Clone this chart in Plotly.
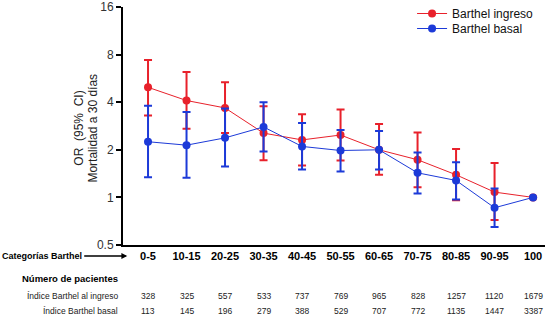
import plotly.graph_objects as go

categories = ["0-5", "10-15", "20-25", "30-35", "40-45", "50-55", "60-65", "70-75", "80-85", "90-95", "100"]

ingreso_or = [4.97, 4.1, 3.68, 2.55, 2.31, 2.48, 2.0, 1.73, 1.39, 1.08, 1.0]
ingreso_hi = [7.4, 6.2, 5.34, 3.77, 3.36, 3.6, 2.91, 2.57, 2.02, 1.65, 1.0]
ingreso_lo = [3.3, 2.72, 2.55, 1.72, 1.59, 1.71, 1.39, 1.16, 0.96, 0.72, 1.0]

basal_or = [2.25, 2.14, 2.38, 2.79, 2.10, 1.98, 2.0, 1.43, 1.28, 0.86, 1.0]
basal_hi = [3.8, 3.47, 3.65, 4.0, 2.95, 2.67, 2.63, 1.92, 1.67, 1.14, 1.0]
basal_lo = [1.34, 1.33, 1.57, 1.95, 1.50, 1.46, 1.50, 1.06, 0.97, 0.65, 1.0]

n_ingreso = [328, 325, 557, 533, 737, 769, 965, 828, 1257, 1120, 1679]
n_basal = [113, 145, 196, 279, 388, 529, 707, 772, 1135, 1447, 3387]

y_ticks = [0.5, 1, 2, 4, 8, 16]
y_ticktext = ["0.5", "1", "2", "4", "8", "16"]

RED = "#e8212b"
BLUE = "#1c3ad8"
FONT = "Arial, Liberation Sans, sans-serif"

TOP, BOT = 7, 73
PH = 318 - TOP - BOT


def py(px):
    return (318 - BOT - px) / PH


fig = go.Figure()


def add_series(name, vals, hi, lo, color, legend):
    fig.add_trace(go.Scatter(
        x=categories, y=vals, name=name, mode="lines+markers", legend=legend,
        line=dict(color=color, width=1),
        marker=dict(color=color, size=8),
        error_y=dict(type="data", symmetric=False,
                     array=[h - v for h, v in zip(hi, vals)],
                     arrayminus=[v - l for v, l in zip(vals, lo)],
                     color=color, thickness=2, width=4),
    ))


add_series("Barthel ingreso", ingreso_or, ingreso_hi, ingreso_lo, RED, "legend")
add_series("Barthel basal", basal_or, basal_hi, basal_lo, BLUE, "legend2")

annotations = []
annotations.append(dict(text="OR  (95%  CI)", xref="paper", yref="paper", x=-0.105, y=py(128),
                        xanchor="center", yanchor="middle", textangle=-90, showarrow=False,
                        font=dict(family=FONT, size=12, color="#222")))
annotations.append(dict(text="Mortalidad a 30 días", xref="paper", yref="paper", x=-0.072, y=py(128),
                        xanchor="center", yanchor="middle", textangle=-90, showarrow=False,
                        font=dict(family=FONT, size=12, color="#222")))
annotations.append(dict(text="<b>Categorías Barthel</b>", xref="paper", yref="paper",
                        x=-0.291, y=py(256), xanchor="left", yanchor="middle", showarrow=False,
                        font=dict(family=FONT, size=9, color="#000")))
annotations.append(dict(text=" ", xref="paper", yref="paper", x=0.01, y=py(256),
                        ax=-46, ay=0, axref="pixel", ayref="pixel", showarrow=True,
                        arrowhead=2, arrowsize=0.9, arrowwidth=1.3, arrowcolor="#000"))
annotations.append(dict(text="<b>Número de pacientes</b>", xref="paper", yref="paper",
                        x=-0.007, y=py(278), xanchor="right", yanchor="middle", showarrow=False,
                        font=dict(family=FONT, size=9.5, color="#000")))
annotations.append(dict(text="Índice Barthel al ingreso", xref="paper", yref="paper",
                        x=-0.007, y=py(296), xanchor="right", yanchor="middle", showarrow=False,
                        font=dict(family=FONT, size=8.5, color="#222")))
annotations.append(dict(text="Índice Barthel basal", xref="paper", yref="paper",
                        x=-0.007, y=py(311), xanchor="right", yanchor="middle", showarrow=False,
                        font=dict(family=FONT, size=8.5, color="#222")))
for i, (a, b) in enumerate(zip(n_ingreso, n_basal)):
    annotations.append(dict(text=str(a), xref="x", yref="paper", x=i, y=py(296),
                            xanchor="center", yanchor="middle", showarrow=False,
                            font=dict(family=FONT, size=8.5, color="#222")))
    annotations.append(dict(text=str(b), xref="x", yref="paper", x=i, y=py(311),
                            xanchor="center", yanchor="middle", showarrow=False,
                            font=dict(family=FONT, size=8.5, color="#222")))

legend_common = dict(xanchor="left", yanchor="middle", yref="container", bgcolor="rgba(0,0,0,0)",
                     font=dict(family=FONT, size=12, color="#111"), itemwidth=30)

fig.update_layout(
    width=560, height=318,
    margin=dict(l=123, r=15, t=TOP, b=BOT, autoexpand=False),
    paper_bgcolor="white", plot_bgcolor="white",
    font=dict(family=FONT, color="#222"),
    showlegend=True,
    legend=dict(x=0.685, y=1 - 13.5 / 318, **legend_common),
    legend2=dict(x=0.685, y=1 - 28.5 / 318, **legend_common),
    xaxis=dict(type="category", range=[-0.65, 10.31], showgrid=False, zeroline=False,
               showline=True, linecolor="#000", linewidth=2, ticks="",
               tickfont=dict(family=FONT, size=11, color="#000"),
               tickvals=categories, ticktext=["<b>%s</b>" % c for c in categories]),
    yaxis=dict(type="log", range=[-0.30103, 1.2042], showgrid=False, zeroline=False,
               showline=True, linecolor="#000", linewidth=2, ticks="outside", ticklen=5,
               tickwidth=1.5, tickcolor="#000", tickvals=y_ticks, ticktext=y_ticktext,
               ticklabeloverflow="allow",
               tickfont=dict(family=FONT, size=12, color="#333")),
    annotations=annotations,
)

fig.write_html("out.html", config={"displayModeBar": False},
               post_script="document.body.style.margin='0';")
